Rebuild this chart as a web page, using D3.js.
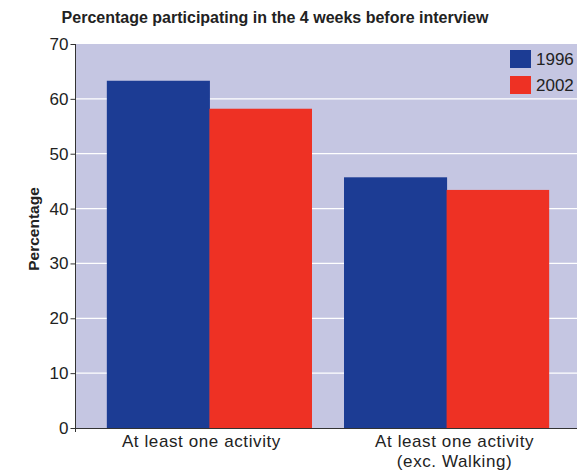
<!DOCTYPE html>
<html><head><meta charset="utf-8">
<script src="https://cdn.jsdelivr.net/npm/d3@7"></script>
<style>body{margin:0;background:#fff;} text{font-family:"Liberation Sans",Arial,sans-serif;}</style>
</head><body>
<svg id="c" width="577" height="473"></svg>
<script>
const categories = [["At least one activity"], ["At least one activity", "(exc. Walking)"]];
const categoryKeys = ["a", "b"];
const seriesNames = ["1996", "2002"];
const values1996 = [63.3, 45.7];
const values2002 = [58.2, 43.4];
const yTicks = [0, 10, 20, 30, 40, 50, 60, 70];
const colors = ["#1c3c94", "#ee3124"];

const svg = d3.select("#c");
const pLeft = 76, pRight = 580, pTop = 44, pBottom = 428;
const y = d3.scaleLinear().domain([0, 70]).range([pBottom, pTop]);
const x0 = d3.scaleBand().domain(categoryKeys).range([pLeft, pRight]).paddingInner(0.135).paddingOuter(0.13);
const x1 = d3.scaleBand().domain(seriesNames).range([0, x0.bandwidth()]);

svg.append("rect").attr("x", pLeft).attr("y", pTop).attr("width", 577 - pLeft).attr("height", pBottom - pTop).attr("fill", "#c5c6e2");

svg.append("g").selectAll("line").data(yTicks.filter(t => t > 0 && t < 70)).join("line")
  .attr("x1", pLeft).attr("x2", 577).attr("y1", d => y(d)).attr("y2", d => y(d))
  .attr("stroke", "#ffffff").attr("stroke-width", 1.2);

const series = [values1996, values2002];
categoryKeys.forEach((k, i) => {
  seriesNames.forEach((s, j) => {
    svg.append("rect").attr("x", x0(k) + x1(s)).attr("width", x1.bandwidth() + (j === 0 ? 0.5 : 0))
      .attr("y", y(series[j][i])).attr("height", y(0) - y(series[j][i])).attr("fill", colors[j]);
  });
});

// y axis
const yAxis = d3.axisLeft(y).tickValues(yTicks).tickSize(5).tickPadding(2);
const ga = svg.append("g").attr("transform", `translate(${pLeft - 0.5},0)`).call(yAxis);
ga.select(".domain").attr("stroke", "#333").attr("d", `M0,${pTop}V${pBottom + 4}`);
ga.selectAll(".tick line").attr("stroke", "#333");
ga.selectAll(".tick text").attr("font-size", 17).attr("fill", "#222").attr("font-family", "Liberation Sans, Arial, sans-serif");

// x axis
svg.append("line").attr("x1", pLeft - 5).attr("x2", 577).attr("y1", pBottom + 0.5).attr("y2", pBottom + 0.5).attr("stroke", "#333").attr("stroke-width", 1.2);
const labelShift = [-8, 8];
categoryKeys.forEach((k, i) => {
  const cx = x0(k) + x0.bandwidth() / 2 + labelShift[i];
  const t = svg.append("text").attr("x", cx).attr("y", 446.5)
    .attr("text-anchor", "middle").attr("font-size", 17).attr("letter-spacing", 0.6).attr("fill", "#222");
  categories[i].forEach((line, li) => {
    t.append("tspan").attr("x", cx).attr("dy", li === 0 ? 0 : 20).text(line);
  });
});

// title
svg.append("text").attr("x", 275).attr("y", 23).attr("text-anchor", "middle")
  .attr("font-size", 16).attr("font-weight", "bold").attr("fill", "#222")
  .text("Percentage participating in the 4 weeks before interview");

// y label
svg.append("text").attr("transform", `translate(39,229) rotate(-90)`)
  .attr("text-anchor", "middle").attr("font-size", 15.5).attr("font-weight", "bold").attr("fill", "#222")
  .text("Percentage");

// legend
seriesNames.forEach((s, j) => {
  svg.append("rect").attr("x", 510).attr("y", 50 + j * 26).attr("width", 21).attr("height", 18).attr("fill", colors[j]);
  svg.append("text").attr("x", 536).attr("y", 65 + j * 26).attr("font-size", 17).attr("fill", "#222").text(s);
});
</script>
</body></html>
